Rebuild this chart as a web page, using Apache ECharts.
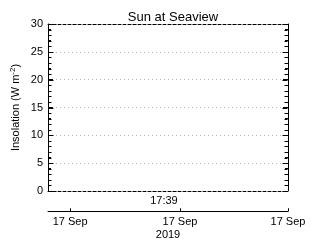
<!DOCTYPE html>
<html>
<head>
<meta charset="utf-8">
<script src="https://cdn.jsdelivr.net/npm/echarts@6/dist/echarts.min.js"></script>
<style>html,body{margin:0;padding:0;background:#fff}#c{width:320px;height:240px}</style>
</head>
<body>
<div id="c"></div>
<script>
const titleText = 'Sun at Seaview';
const yName = 'Insolation';
const yMin = 0, yMax = 30, yStep = 5;
const seriesValues = [];            // no data recorded
const timeTickValues = [0.483];     // position of the single time label (fraction of range)
const timeTickLabels = ['17:39'];
const dateTickValues = [0.092, 0.55, 1.0];
const dateTickLabels = ['17 Sep', '17 Sep', '17 Sep'];
const yearLabel = '2019';
const yMajorTicks = [0, 5, 10, 15, 20, 25, 30];
const yMinorTicks = [1,2,3,4,6,7,8,9,11,12,13,14,16,17,18,19,21,22,23,24,26,27,28,29];

const FONT = 'Liberation Sans';
const txt = {color: '#000', fontFamily: FONT, fontSize: 11};

const tickData = yMajorTicks.map(v => [v, 1]).concat(yMinorTicks.map(v => [v, 0]));

function renderTick(params, api) {
  const v = api.value(0);
  const major = api.value(1) === 1;
  const len = major ? 5 : 3;
  const l = api.coord([0, v]);
  const r = api.coord([1, v]);
  const y = Math.round(l[1]) + 0.5;
  const lx = Math.round(l[0]) + 0.5, rx = Math.round(r[0]) - 0.5;
  const st = {stroke: '#000', lineWidth: 1};
  return {
    type: 'group',
    children: [
      {type: 'line', shape: {x1: lx, y1: y, x2: lx + len, y2: y}, style: st},
      {type: 'line', shape: {x1: rx - len, y1: y, x2: rx, y2: y}, style: st}
    ]
  };
}

const chart = echarts.init(document.getElementById('c'), null, {renderer: 'canvas'});
chart.setOption({
  animation: false,
  backgroundColor: '#fff',
  title: {
    text: titleText, left: 168, top: 6, textAlign: 'center',
    textStyle: {color: '#000', fontFamily: FONT, fontSize: 13, fontWeight: 'normal'}
  },
  grid: [
    {left: 48, right: 32, top: 24, height: 167, containLabel: false},
    {left: 48, right: 32, top: 211, height: 1, containLabel: false}
  ],
  xAxis: [
    {
      gridIndex: 0, type: 'value', min: 0, max: 1, position: 'bottom',
      axisLine: {show: true, onZero: true, onZeroAxisIndex: 0, lineStyle: {color: '#000', width: 1, type: [3, 2]}},
      axisTick: {show: false},
      splitLine: {show: false},
      axisLabel: Object.assign({margin: 4, customValues: timeTickValues,
        formatter: v => timeTickLabels[timeTickValues.indexOf(v)] || ''}, txt)
    },
    {
      gridIndex: 0, type: 'value', min: 0, max: 1, position: 'top',
      axisLine: {show: true, onZero: true, onZeroAxisIndex: 2, lineStyle: {color: '#000', width: 1, type: [3, 2]}},
      axisTick: {show: false}, axisLabel: {show: false}, splitLine: {show: false}
    },
    {
      gridIndex: 0, type: 'value', min: -1, max: 0, show: false
    },
    {
      gridIndex: 1, type: 'value', min: 0, max: 1, position: 'bottom',
      name: yearLabel, nameLocation: 'middle', nameGap: 18,
      nameTextStyle: Object.assign({}, txt),
      axisLine: {show: true, onZero: false, lineStyle: {color: '#000', width: 1}},
      axisTick: {show: true, inside: true, length: 3, customValues: dateTickValues, lineStyle: {color: '#000'}},
      splitLine: {show: false},
      axisLabel: Object.assign({margin: 5, customValues: dateTickValues,
        formatter: v => dateTickLabels[dateTickValues.indexOf(v)] || ''}, txt)
    }
  ],
  yAxis: [
    {
      gridIndex: 0, type: 'value', min: yMin, max: yMax, interval: yStep, position: 'left',
      name: yName + ' (W m{sup|-2})', nameLocation: 'middle', nameGap: 25, nameMoveOverlap: false,
      nameTextStyle: Object.assign({rich: {sup: {fontFamily: FONT, fontSize: 8, color: '#000', padding: [0, 0, 6, 0]}}}, txt),
      axisLine: {show: true, onZero: true, onZeroAxisIndex: 0, lineStyle: {color: '#000', width: 1}},
      axisTick: {show: true, inside: true, length: 5, lineStyle: {color: '#000'}},
      minorTick: {show: true, splitNumber: 5, length: 3, lineStyle: {color: '#000'}},
      splitLine: {show: true, lineStyle: {color: '#b8b8b8', width: 1, type: [1, 3]}},
      axisLabel: Object.assign({margin: 5}, txt)
    },
    {
      gridIndex: 0, type: 'value', min: yMin, max: yMax, interval: yStep, position: 'right',
      axisLine: {show: true, onZero: true, onZeroAxisIndex: 2, lineStyle: {color: '#000', width: 1}},
      axisTick: {show: true, inside: true, length: 5, lineStyle: {color: '#000'}},
      minorTick: {show: true, splitNumber: 5, length: 3, lineStyle: {color: '#000'}},
      splitLine: {show: false}, axisLabel: {show: false}
    },
    {
      gridIndex: 0, type: 'value', min: -30, max: 0, show: false
    },
    {
      gridIndex: 1, type: 'value', min: 0, max: 1, show: false
    }
  ],
  series: [
    {type: 'line', xAxisIndex: 0, yAxisIndex: 0, data: seriesValues, symbol: 'none'},
    {
      type: 'custom', xAxisIndex: 0, yAxisIndex: 0, clip: false, silent: true,
      encode: {y: 0}, data: tickData, renderItem: renderTick, z: 10
    }
  ]
});
</script>
</body>
</html>
